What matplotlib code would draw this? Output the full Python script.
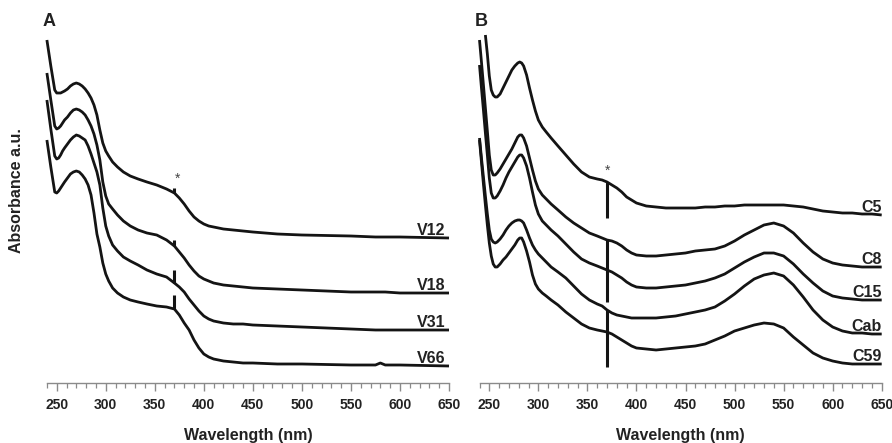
import numpy as np
import matplotlib
matplotlib.use("Agg")
import matplotlib.pyplot as plt
from matplotlib.ticker import MultipleLocator

# ---------------- data (absorbance, arbitrary units) ----------------
wl_A = [240, 244, 248, 250, 252, 254, 256, 258, 261, 264,
        267, 270, 273, 276, 279, 282, 285, 288, 291, 294,
        297, 300, 303, 307, 312, 318, 325, 333, 342, 352,
        362, 370, 375, 380, 385, 390, 395, 400, 405, 410,
        420, 430, 440, 450, 475, 500, 550, 575, 580, 585,
        600, 650]
V12 = [3.43, 3.17, 2.93, 2.90, 2.90, 2.90, 2.91, 2.92, 2.94, 2.97,
       2.99, 3.00, 2.99, 2.97, 2.94, 2.90, 2.85, 2.78, 2.68, 2.53,
       2.40, 2.32, 2.27, 2.21, 2.16, 2.11, 2.07, 2.04, 2.01, 1.98,
       1.94, 1.90, 1.85, 1.79, 1.72, 1.66, 1.62, 1.59, 1.57, 1.56,
       1.54, 1.53, 1.52, 1.51, 1.49, 1.48, 1.47, 1.46, 1.46, 1.46,
       1.46, 1.45]
V18 = [3.10, 2.83, 2.57, 2.54, 2.55, 2.57, 2.60, 2.63, 2.66, 2.70,
       2.73, 2.74, 2.73, 2.71, 2.68, 2.63, 2.57, 2.49, 2.38, 2.23,
       2.01, 1.87, 1.79, 1.74, 1.68, 1.62, 1.57, 1.53, 1.50, 1.48,
       1.43, 1.37, 1.31, 1.25, 1.18, 1.12, 1.07, 1.04, 1.02, 1.00,
       0.98, 0.97, 0.96, 0.95, 0.94, 0.93, 0.91, 0.91, 0.91, 0.91,
       0.90, 0.90]
V31 = [2.83, 2.54, 2.27, 2.24, 2.25, 2.28, 2.32, 2.35, 2.39, 2.43,
       2.46, 2.48, 2.47, 2.45, 2.43, 2.37, 2.29, 2.20, 2.11, 1.98,
       1.75, 1.57, 1.47, 1.38, 1.32, 1.26, 1.22, 1.18, 1.13, 1.09,
       1.06, 1.00, 0.96, 0.91, 0.84, 0.78, 0.72, 0.67, 0.64, 0.62,
       0.60, 0.59, 0.59, 0.58, 0.57, 0.56, 0.54, 0.53, 0.53, 0.53,
       0.53, 0.53]
V66 = [2.43, 2.16, 1.91, 1.90, 1.92, 1.95, 1.98, 2.01, 2.05, 2.09,
       2.11, 2.12, 2.11, 2.08, 2.04, 1.98, 1.88, 1.70, 1.49, 1.36,
       1.20, 1.09, 1.02, 0.95, 0.90, 0.86, 0.83, 0.81, 0.79, 0.77,
       0.76, 0.74, 0.68, 0.60, 0.53, 0.43, 0.35, 0.29, 0.26, 0.24,
       0.22, 0.21, 0.20, 0.20, 0.19, 0.19, 0.18, 0.18, 0.20, 0.18,
       0.18, 0.17]
names_A = ["V12", "V18", "V31", "V66"]
spike_tip_A = [1.95, 1.43, 1.13, 0.88]

wl_B = [240, 242, 244, 246, 248, 250, 252, 254, 256, 258,
        261, 264, 267, 270, 273, 276, 279, 281, 283, 285,
        288, 291, 294, 297, 300, 304, 308, 313, 320, 328,
        336, 344, 352, 360, 365, 370,
        375, 380, 385, 390, 395, 400, 410, 420, 430, 440,
        450, 460, 470, 480, 490, 500, 510, 520, 530, 540,
        550, 560, 570, 580, 590, 600, 610, 620, 630, 640, 650]
nan = np.nan
C5 = [nan, nan, nan, 3.48, 3.29, 3.07, 2.93, 2.88, 2.86, 2.86,
      2.89, 2.95, 3.01, 3.07, 3.13, 3.17, 3.20, 3.21, 3.20, 3.17,
      3.08, 2.95, 2.83, 2.72, 2.63, 2.56, 2.51, 2.45, 2.37, 2.28,
      2.19, 2.11, 2.06, 2.04, 2.03, 2.01,
      1.98, 1.95, 1.91, 1.86, 1.83, 1.80, 1.77, 1.76, 1.75, 1.75,
      1.75, 1.75, 1.76, 1.76, 1.77, 1.77, 1.78, 1.78, 1.78, 1.78,
      1.78, 1.77, 1.76, 1.74, 1.72, 1.71, 1.70, 1.70, 1.69, 1.69, 1.68]
C8 = [3.43, 3.21, 2.98, 2.75, 2.52, 2.28, 2.13, 2.08, 2.08, 2.10,
      2.14, 2.19, 2.24, 2.29, 2.34, 2.40, 2.46, 2.48, 2.48, 2.45,
      2.37, 2.25, 2.13, 2.02, 1.94, 1.88, 1.84, 1.79, 1.73, 1.66,
      1.60, 1.55, 1.50, 1.47, 1.45, 1.43,
      1.42, 1.40, 1.37, 1.33, 1.30, 1.28, 1.27, 1.27, 1.28, 1.29,
      1.30, 1.32, 1.33, 1.34, 1.37, 1.42, 1.48, 1.53, 1.58, 1.60,
      1.57, 1.50, 1.40, 1.31, 1.24, 1.20, 1.18, 1.17, 1.16, 1.16, 1.16]
C15 = [3.18, 2.95, 2.73, 2.50, 2.28, 2.05, 1.90, 1.85, 1.85, 1.87,
       1.92, 1.98, 2.05, 2.11, 2.16, 2.21, 2.26, 2.28, 2.28, 2.25,
       2.17, 2.05, 1.91, 1.78, 1.69, 1.62, 1.58, 1.53, 1.47, 1.39,
       1.31, 1.24, 1.20, 1.17, 1.15, 1.13,
       1.11, 1.08, 1.05, 1.01, 0.98, 0.96, 0.95, 0.95, 0.96, 0.97,
       0.98, 1.00, 1.02, 1.05, 1.09, 1.15, 1.21, 1.26, 1.30, 1.30,
       1.27, 1.19, 1.09, 1.00, 0.92, 0.87, 0.85, 0.84, 0.83, 0.83, 0.83]
Cab = [2.45, 2.25, 2.06, 1.87, 1.69, 1.53, 1.44, 1.41, 1.40, 1.41,
       1.44, 1.48, 1.53, 1.57, 1.60, 1.62, 1.63, 1.63, 1.62, 1.60,
       1.53, 1.45, 1.38, 1.33, 1.29, 1.25, 1.21, 1.16, 1.11, 1.05,
       0.97, 0.89, 0.83, 0.79, 0.77, 0.73,
       0.70, 0.68, 0.67, 0.66, 0.65, 0.65, 0.65, 0.65, 0.66, 0.67,
       0.69, 0.71, 0.73, 0.76, 0.82, 0.89, 0.97, 1.04, 1.08, 1.10,
       1.07, 0.98, 0.86, 0.73, 0.63, 0.56, 0.52, 0.50, 0.50, 0.49, 0.49]
C59 = [2.43, 2.21, 1.99, 1.78, 1.58, 1.40, 1.27, 1.19, 1.16, 1.16,
       1.19, 1.23, 1.26, 1.30, 1.34, 1.38, 1.43, 1.45, 1.45, 1.41,
       1.32, 1.21, 1.08, 0.99, 0.94, 0.90, 0.87, 0.83, 0.78, 0.71,
       0.65, 0.59, 0.55, 0.53, 0.52, 0.51,
       0.49, 0.46, 0.43, 0.40, 0.37, 0.35, 0.34, 0.33, 0.34, 0.35,
       0.36, 0.37, 0.39, 0.43, 0.47, 0.52, 0.55, 0.58, 0.60, 0.59,
       0.55, 0.46, 0.38, 0.30, 0.25, 0.22, 0.20, 0.19, 0.19, 0.19, 0.19]
names_B = ["C5", "C8", "C15", "Cab", "C59"]
spike_tip_B = [1.65, 1.11, 0.81, 0.48, 0.16]

spike_nm = 370
xticks = [250, 300, 350, 400, 450, 500, 550, 600, 650]

# ---------------- styling ----------------
LINE = "#141414"
AXC = "#8a8a8a"
LW = 2.0
narrow = ["Liberation Sans Narrow", "Liberation Sans", "DejaVu Sans"]
sans = ["Liberation Sans", "DejaVu Sans"]

W, H = 892, 443
fig = plt.figure(figsize=(W / 100, H / 100), dpi=100)
fig.patch.set_facecolor("white")

ax_bottom_px, ax_top_px = 383, 10
axA = fig.add_axes([46.9 / W, (H - ax_bottom_px) / H, (449.0 - 46.9) / W,
                    (ax_bottom_px - ax_top_px) / H])
axB = fig.add_axes([479.5 / W, (H - ax_bottom_px) / H, (881.7 - 479.5) / W,
                    (ax_bottom_px - ax_top_px) / H])


def style(ax):
    ax.set_xlim(240, 650)
    ax.set_ylim(0, 3.73)
    for s in ("top", "right", "left"):
        ax.spines[s].set_visible(False)
    ax.spines["bottom"].set_color(AXC)
    ax.spines["bottom"].set_linewidth(1.0)
    ax.set_yticks([])
    ax.set_xticks(xticks)
    ax.xaxis.set_minor_locator(MultipleLocator(10))
    ax.tick_params(axis="x", which="major", direction="out", length=6, width=1.0,
                   color=AXC, pad=5)
    ax.tick_params(axis="x", which="minor", direction="out", length=3.5, width=0.9,
                   color=AXC)
    for lab in ax.get_xticklabels():
        lab.set_fontfamily(narrow)
        lab.set_fontweight("bold")
        lab.set_fontsize(10)
        lab.set_color("#222222")
    ax.set_xlabel("Wavelength (nm)", fontfamily=sans, fontweight="bold",
                  fontsize=11.5, color="#222222", labelpad=11)
    ax.patch.set_alpha(0)


def draw(ax, wl, series, names, tips, label_x):
    i = wl.index(spike_nm)
    for name, ys, tip in zip(names, series, tips):
        ax.plot(wl, ys, color=LINE, lw=LW, solid_joinstyle="round",
                solid_capstyle="butt", clip_on=False)
        ax.plot([spike_nm, spike_nm], [ys[i], tip], color=LINE, lw=LW + 0.2,
                solid_capstyle="butt")
        ax.annotate(name, xy=(label_x, ys[-1]), xytext=(0, 2.5),
                    textcoords="offset points", ha="right", va="baseline",
                    fontfamily=sans, fontweight="bold", fontsize=11.5,
                    color="#222222")


draw(axA, wl_A, [V12, V18, V31, V66], names_A, spike_tip_A, 646)
axA.text(373, 2.04, "*", ha="center", va="center", fontsize=10, color="#444444",
         fontfamily=sans)
style(axA)

draw(axB, wl_B, [C5, C8, C15, Cab, C59], names_B, spike_tip_B, 650)
axB.text(371, 2.12, "*", ha="center", va="center", fontsize=10, color="#444444",
         fontfamily=sans)
style(axB)

# Figure texts
fig.text(17 / W, 1 - 191 / H, "Absorbance a.u.", rotation=90, ha="center", va="center",
         fontfamily=sans, fontweight="bold", fontsize=11.5, color="#222222")
fig.text(49 / W, 1 - 22 / H, "A", ha="center", va="center", fontfamily=sans,
         fontweight="bold", fontsize=13, color="#222222")
fig.text(481 / W, 1 - 22 / H, "B", ha="center", va="center", fontfamily=sans,
         fontweight="bold", fontsize=13, color="#222222")

fig.savefig("out.png", dpi=100, facecolor="white")
